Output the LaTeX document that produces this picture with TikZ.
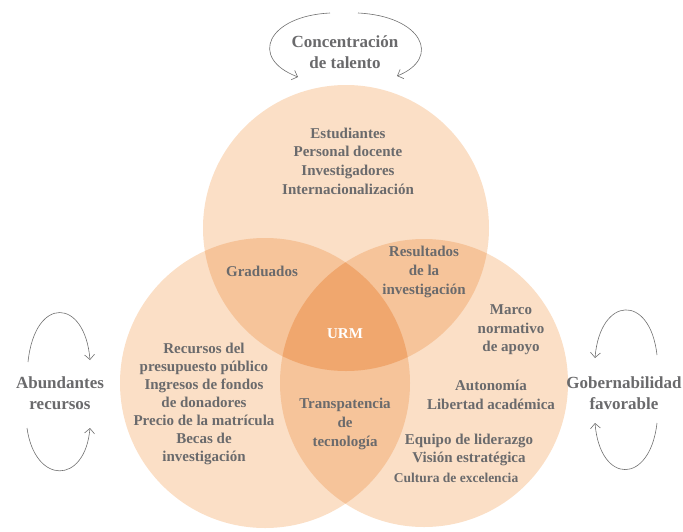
\documentclass[tikz,border=0pt]{standalone}
\usepackage{fontspec}
\setmainfont{Liberation Serif}
\usetikzlibrary{arrows.meta}
\definecolor{cone}{HTML}{FBDFC6}
\definecolor{ctwo}{HTML}{F6C49A}
\definecolor{cthree}{HTML}{F0A76E}
\definecolor{tgray}{HTML}{6A6A6C}
\definecolor{agray}{HTML}{707070}
\tikzset{
  lbl/.style={text=tgray, font=\bfseries\fontsize{15}{18.6}\selectfont, align=center, inner sep=0pt},
  outer/.style={text=tgray, font=\bfseries\fontsize{17}{21}\selectfont, align=center, inner sep=0pt},
  cyc/.style={draw=agray, line width=0.6pt, -{Straight Barb[length=5pt,width=10pt]}}
}
\begin{document}
\begin{tikzpicture}[x=1pt,y=-1pt]
\useasboundingbox (0,0) rectangle (683,531);
\clip (0,0) rectangle (683,531);
% circles
\fill[cone] (346,228) circle[radius=143pt] (265,383) circle[radius=145pt] (424,383) circle[radius=144pt];
\begin{scope}
  \clip (346,228) circle[radius=143pt];
  \fill[ctwo] (265,383) circle[radius=145pt] (424,383) circle[radius=144pt];
\end{scope}
\begin{scope}
  \clip (265,383) circle[radius=145pt];
  \fill[ctwo] (424,383) circle[radius=144pt];
\end{scope}
\begin{scope}
  \clip (346,228) circle[radius=143pt];
  \clip (265,383) circle[radius=145pt];
  \fill[cthree] (424,383) circle[radius=144pt];
\end{scope}
% outer labels
\node[outer] (talento) at (345,52) {Concentración\\de talento};
\node[outer] (recursos) at (60,393) {Abundantes\\recursos};
\node[outer] (gober) at (624,393) {Gobernabilidad\\favorable};
% cycle arrows
\coordinate (t1) at (330,13); \coordinate (t2) at (298,77);
\coordinate (t3) at (358,13); \coordinate (t4) at (397,76);
\draw[cyc] (t1) .. controls (268,16) and (248,58) .. (t2);
\draw[cyc] (t3) .. controls (422,16) and (442,58) .. (t4);
\coordinate (l1) at (28,362); \coordinate (l2) at (90,360);
\coordinate (l3) at (27,428); \coordinate (l4) at (90,428);
\draw[cyc] (l1) .. controls (35,295) and (85,298) .. (l2);
\draw[cyc] (l3) .. controls (35,485) and (85,485) .. (l4);
\coordinate (r1) at (657,355); \coordinate (r2) at (595,358);
\coordinate (r3) at (657,423); \coordinate (r4) at (595,423);
\draw[cyc] (r1) .. controls (650,293) and (600,296) .. (r2);
\draw[cyc] (r3) .. controls (650,485) and (600,485) .. (r4);
% inner labels
\node[lbl] (talent) at (348,161) {Estudiantes\\Personal docente\\Investigadores\\Internacionalización};
\node[lbl] (grad) at (262,271) {Graduados};
\node[lbl] (result) at (424,272) {Resultados\\de la\\investigación};
\node[lbl, text=white] (urm) at (345,334) {URM};
\node[lbl] (marco) at (511,330) {Marco\\normativo\\de apoyo};
\node[lbl] (auto) at (491,395) {Autonomía\\Libertad académica};
\node[lbl] (equipo) at (469,450) {Equipo de liderazgo\\Visión estratégica};
\node[lbl, font=\bfseries\fontsize{13.5}{16}\selectfont] (cultura) at (456,478) {Cultura de excelencia};
\node[lbl] (transp) at (345,424) {Transpatencia\\de\\tecnología};
\node[lbl, font=\bfseries\fontsize{15}{18}\selectfont] (fondos) at (204,404) {Recursos del\\presupuesto público\\Ingresos de fondos\\de donadores\\Precio de la matrícula\\Becas de\\investigación};
\end{tikzpicture}
\end{document}
